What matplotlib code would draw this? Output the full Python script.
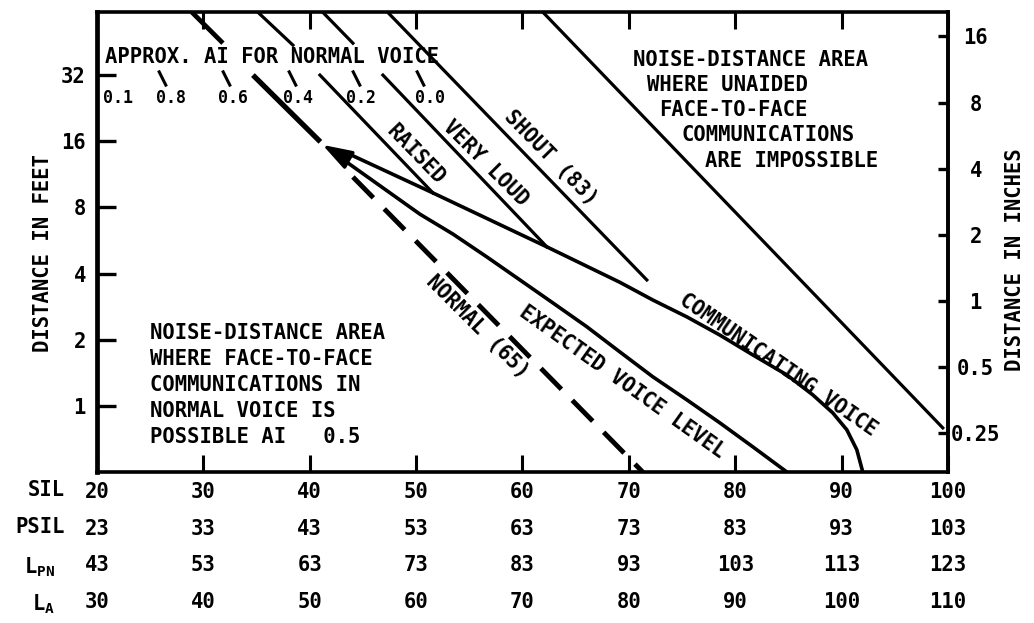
import matplotlib
matplotlib.use("Agg")
import matplotlib.pyplot as plt
from matplotlib.path import Path
from matplotlib.ticker import FixedLocator, NullLocator, FixedFormatter

plt.rcParams['font.family'] = ['DejaVu Sans Mono', 'Liberation Mono']
plt.rcParams['font.weight'] = 'bold'
plt.rcParams['axes.labelweight'] = 'bold'
plt.rcParams['mathtext.fontset'] = 'custom'
plt.rcParams['mathtext.rm'] = 'DejaVu Sans Mono:bold'
plt.rcParams['mathtext.it'] = 'DejaVu Sans Mono:bold'
plt.rcParams['mathtext.bf'] = 'DejaVu Sans Mono:bold'

# ---------------- data (SIL in dB, distance in feet) ----------------
sil_ticks = [20, 30, 40, 50, 60, 70, 80, 90, 100]
psil_ticks = [23, 33, 43, 53, 63, 73, 83, 93, 103]
lpn_ticks = [43, 53, 63, 73, 83, 93, 103, 113, 123]
la_ticks = [30, 40, 50, 60, 70, 80, 90, 100, 110]
feet_ticks = [1, 2, 4, 8, 16, 32]
inch_ticks = [0.25, 0.5, 1, 2, 4, 8, 16]
inch_labels = ['0.25', '0.5', '1', '2', '4', '8', '16']

# Normal voice (65) line, drawn in three pieces
normal_top_sil = [28.9, 31.84]
normal_top_ft = [62.0, 44.7]
normal_mid_sil = [34.66, 41.0]
normal_mid_ft = [32.0, 15.9]
normal_dash_sil = [44.06, 71.3]
normal_dash_ft = [11.0, 0.5]

# Raised voice
raised_top_sil = [35.1, 38.42]
raised_top_ft = [62.0, 43.8]
raised_sil = [40.96, 51.58]
raised_ft = [32.0, 9.31]

# Very loud voice
vloud_top_sil = [41.2, 44.06]
vloud_top_ft = [62.0, 44.7]
vloud_sil = [46.88, 62.29]
vloud_ft = [32.0, 5.29]

# Shout (83)
shout_sil = [47.3, 71.69]
shout_ft = [62.0, 3.74]

# Limit of unaided face-to-face communication
limit_sil = [61.9, 99.51]
limit_ft = [62.0, 0.794]

# Communicating voice
comm_sil = [43.5, 51.58, 62.29, 69.15, 72.26, 75.45, 78.55, 81.65, 84.85,
            87.29, 89.17, 90.49, 91.43, 91.99]
comm_ft = [14.14, 9.31, 5.29, 3.65, 3.03, 2.54, 2.10, 1.705, 1.383,
           1.122, 0.929, 0.778, 0.631, 0.5]

# Expected voice level
expect_sil = [43.59, 50.36, 53.46, 56.65, 59.76, 62.86, 66.05, 69.15, 72.26,
              75.45, 78.55, 81.65, 84.19, 84.85]
expect_ft = [12.74, 7.45, 6.05, 4.76, 3.74, 2.94, 2.29, 1.76, 1.355,
             1.065, 0.837, 0.651, 0.528, 0.5]

# Arrow (tail -> tip)
arrow_tail = (43.5, 13.3)
arrow_tip = (41.2, 15.4)

# Approximate AI scale for normal voice
ai_mark_sil = [26.15, 32.12, 38.37, 44.38, 50.35]
ai_mark_ft = 31.0
ai_label_sil = [21.97, 26.95, 32.78, 38.89, 44.81, 51.30]
ai_labels = ['0.1', '0.8', '0.6', '0.4', '0.2', '0.0']
ai_label_ft = 25.2

FS = 14.8

fig = plt.figure(figsize=(10.34, 6.23), dpi=100)
ax = fig.add_axes([0.0938, 0.2424, 0.8230, 0.7384])
ax.set_yscale('log', base=2)
ax.set_xlim(sil_ticks[0], sil_ticks[-1])
ax.set_ylim(0.5, 62)

lw = 2.3
ax.plot(normal_top_sil, normal_top_ft, color='black', lw=3.4, solid_capstyle='butt')
ax.plot(normal_mid_sil, normal_mid_ft, color='black', lw=3.8, solid_capstyle='butt')
ax.plot(normal_dash_sil, normal_dash_ft, color='black', lw=3.5, dashes=(6, 3.2))
ax.plot(raised_top_sil, raised_top_ft, color='black', lw=lw)
ax.plot(raised_sil, raised_ft, color='black', lw=lw)
ax.plot(vloud_top_sil, vloud_top_ft, color='black', lw=lw)
ax.plot(vloud_sil, vloud_ft, color='black', lw=lw)
ax.plot(shout_sil, shout_ft, color='black', lw=lw)
ax.plot(limit_sil, limit_ft, color='black', lw=lw)
ax.plot(comm_sil, comm_ft, color='black', lw=2.6, solid_joinstyle='round')
ax.plot(expect_sil, expect_ft, color='black', lw=2.6, solid_joinstyle='round')
ax.annotate('', xy=arrow_tip, xytext=arrow_tail,
            arrowprops=dict(arrowstyle='-|>,head_length=1.8,head_width=0.6',
                            color='black', lw=2.4, shrinkA=0, shrinkB=0,
                            mutation_scale=10))

# AI scale marks and labels
mark = Path([(-0.25, 0.5), (0.25, -0.5)], [Path.MOVETO, Path.LINETO])
ax.plot(ai_mark_sil, [ai_mark_ft] * len(ai_mark_sil), ls='none', marker=mark,
        markersize=11.5, markeredgewidth=2.2, color='black')
for s, t in zip(ai_label_sil, ai_labels):
    ax.text(s, ai_label_ft, t, ha='center', va='center', fontsize=12)
ax.text(20.75, 38.6, 'APPROX. AI FOR NORMAL VOICE', ha='left', va='center', fontsize=FS)

# line labels
lab_kw = dict(ha='center', va='center', fontsize=FS, rotation_mode='anchor')
ax.text(49.98, 13.85, 'RAISED', rotation=-46, **lab_kw)
ax.text(56.56, 12.74, 'VERY LOUD', rotation=-45, **lab_kw)
ax.text(62.67, 13.42, 'SHOUT (83)', rotation=-45.5, **lab_kw)
ax.text(55.81, 2.29, 'NORMAL (65)', rotation=-45, **lab_kw)
ax.text(69.34, 1.285, 'EXPECTED VOICE LEVEL', rotation=-35.5, **lab_kw)
ax.text(84.0, 1.536, 'COMMUNICATING VOICE', rotation=-34.6, **lab_kw)

# area labels
up_lines = ['NOISE-DISTANCE AREA', 'WHERE UNAIDED', 'FACE-TO-FACE',
            'COMMUNICATIONS', 'ARE IMPOSSIBLE']
up_x = [633, 647, 659, 682, 705]
up_y = [60, 85, 110, 135, 161]
for t, px, py in zip(up_lines, up_x, up_y):
    ax.text((px - 97) / 851, (472 - py) / 460, t, transform=ax.transAxes,
            ha='left', va='center', fontsize=FS)
low_lines = ['NOISE-DISTANCE AREA', 'WHERE FACE-TO-FACE', 'COMMUNICATIONS IN',
             'NORMAL VOICE IS', 'POSSIBLE AI   0.5']
low_y = [333, 359, 385, 411, 437]
for t, py in zip(low_lines, low_y):
    ax.text((150 - 97) / 851, (472 - py) / 460, t, transform=ax.transAxes,
            ha='left', va='center', fontsize=FS)

# axes styling
for sp in ax.spines.values():
    sp.set_linewidth(2.6)
ax.spines['left'].set_linewidth(3.4)

ax.xaxis.set_major_locator(FixedLocator(sil_ticks))
ax.xaxis.set_major_formatter(FixedFormatter([str(v) for v in sil_ticks]))
ax.xaxis.set_minor_locator(NullLocator())
ax.tick_params(axis='x', which='major', direction='in', top=True, bottom=True,
               length=12, width=2.2, pad=7, labelsize=FS)
ax.yaxis.set_major_locator(FixedLocator(feet_ticks))
ax.yaxis.set_major_formatter(FixedFormatter([str(v) for v in feet_ticks]))
ax.yaxis.set_minor_locator(NullLocator())
ax.tick_params(axis='y', which='major', direction='in', left=True, right=False,
               length=14, width=2.4, pad=8, labelsize=FS)
ax.set_ylabel('DISTANCE IN FEET', fontsize=FS, fontweight='bold')
ax.yaxis.set_label_coords(-0.0517, 0.476)

sec = ax.secondary_yaxis('right', functions=(lambda f: f / 3.0, lambda i: i * 3.0))
sec.yaxis.set_major_locator(FixedLocator(inch_ticks))
sec.yaxis.set_major_formatter(FixedFormatter(inch_labels))
sec.yaxis.set_minor_locator(NullLocator())
sec.tick_params(axis='y', which='major', direction='in', length=7, width=2.4,
                pad=20, labelsize=FS)
for lab in sec.get_yticklabels():
    lab.set_horizontalalignment('center')
sec.spines['right'].set_linewidth(2.6)
sec.set_ylabel('DISTANCE IN INCHES', fontsize=FS, fontweight='bold')
sec.yaxis.set_label_coords(1.067, 0.461, transform=ax.transAxes)

# additional scale rows below the SIL axis
rows = [(psil_ticks, -0.0804), (lpn_ticks, -0.1587), (la_ticks, -0.239)]
for ticks, loc in rows:
    off = ticks[0] - sil_ticks[0]
    sx = ax.secondary_xaxis(loc, functions=(lambda s, o=off: s + o,
                                             lambda p, o=off: p - o))
    sx.xaxis.set_major_locator(FixedLocator(ticks))
    sx.xaxis.set_major_formatter(FixedFormatter([str(v) for v in ticks]))
    sx.xaxis.set_minor_locator(NullLocator())
    sx.tick_params(axis='x', length=0, pad=7, labelsize=FS)
    sx.spines['bottom'].set_visible(False)

row_names = [('SIL', 65, 490), ('PSIL', 65, 527),
             ('L$_{\\mathrm{PN}}$', 55, 567), ('L$_{\\mathrm{A}}$', 55, 604)]
for t, px, py in row_names:
    ax.text((px - 97) / 851, (472 - py) / 460, t, transform=ax.transAxes,
            ha='right', va='center', fontsize=FS)

fig.savefig('out.png', dpi=100)
